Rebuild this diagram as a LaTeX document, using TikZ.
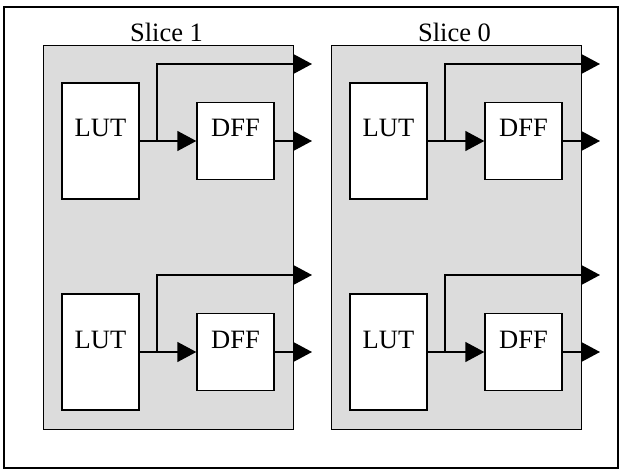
\documentclass[tikz,border=0pt]{standalone}
\usepackage{fontspec}
\setmainfont{Liberation Serif}
\usetikzlibrary{arrows.meta}
\definecolor{sliceGray}{RGB}{220,220,220}
\begin{document}
\begin{tikzpicture}[x=1pt,y=-1pt,
  wire/.style={line width=1.4pt},
  sig/.style={wire,-{Triangle[length=19pt,width=20pt]}},
  slicebox/.style={draw,line width=1.4pt,fill=sliceGray,minimum width=250pt,
    minimum height=384pt,anchor=north west,inner sep=0pt},
  titletext/.style={font=\fontsize{26.5}{30}\selectfont,anchor=base,inner sep=0pt},
  cell/.style={draw,line width=1.4pt,fill=white,inner sep=0pt,
    font=\fontsize{26.5}{30}\selectfont,text height=10pt,text depth=18pt},
  lutbox/.style={cell,minimum width=77pt,minimum height=116pt},
  dffbox/.style={cell,minimum width=77pt,minimum height=77pt},
]
\useasboundingbox (0,0) rectangle (623,470);
% outer frame
\draw[line width=1.2pt] (4,7) rectangle (618,468);
% two slices, each with two LUT/DFF pairs
\foreach \name/\dx in {1/0,0/288} {
  \node[slicebox] (slice\name) at (43+\dx,45) {};
  \node[titletext] (title\name) at (166.5+\dx,41.5) {Slice \name};
  \foreach \row/\dy in {a/0,b/211} {
    \node[lutbox] (lut\name\row) at (100.5+\dx,141+\dy) {LUT};
    \node[dffbox] (dff\name\row) at (235.5+\dx,141+\dy) {DFF};
    \coordinate (fork\name\row) at (157+\dx,141+\dy);
    \coordinate (outq\name\row) at (312+\dx,141+\dy);
    \coordinate (outd\name\row) at (312+\dx,64+\dy);
    \draw[wire] (lut\name\row.east) -- (fork\name\row);
    \draw[sig] (fork\name\row) -- (dff\name\row.west);
    \draw[sig] (fork\name\row) |- (outd\name\row);
    \draw[sig] (dff\name\row.east) -- (outq\name\row);
  }
}
\end{tikzpicture}
\end{document}
